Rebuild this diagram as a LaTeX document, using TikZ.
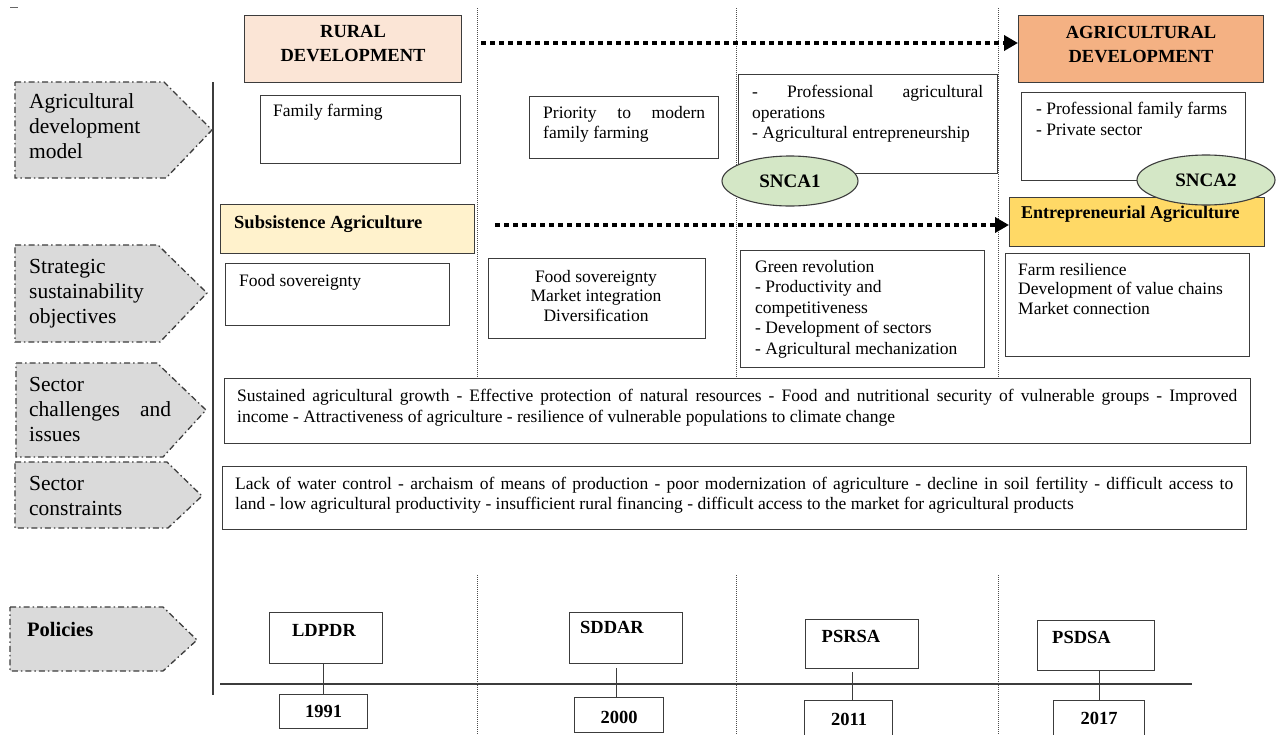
\documentclass[tikz,border=0pt]{standalone}
\usepackage{fontspec}
\setmainfont{Liberation Serif}
\usetikzlibrary{arrows.meta,shapes.geometric}
\definecolor{peach}{RGB}{251,229,214}
\definecolor{orng}{RGB}{244,177,131}
\definecolor{ltyel}{RGB}{255,242,204}
\definecolor{yel}{RGB}{255,217,102}
\definecolor{grn}{RGB}{212,231,198}
\definecolor{pgray}{RGB}{218,218,218}
\definecolor{edge}{RGB}{60,60,60}
\begin{document}
\begin{tikzpicture}[x=1pt,y=-1pt,
 box/.style={draw=edge,line width=1.1pt,inner sep=0pt,anchor=north west},
 txt/.style={inner sep=0pt,anchor=north west,align=left,font=\fontsize{17.5}{20.5}\selectfont},
 ctxt/.style={inner sep=0pt,align=center,font=\fontsize{17.5}{19.5}\selectfont},
 btxt/.style={inner sep=0pt,font=\bfseries\fontsize{18.5}{24}\selectfont},
 lab/.style={inner sep=0pt,anchor=north west,align=left,font=\fontsize{21.5}{25}\selectfont},
 pent/.style={fill=pgray,draw=edge,line width=1.3pt,dash pattern=on 6pt off 3pt on 1.5pt off 3pt},
 sep/.style={draw=black!70,line width=0.8pt,dash pattern=on 1pt off 1pt},
 flow/.style={line width=4.6pt,dash pattern=on 4.6pt off 4.4pt,-{Triangle[length=14pt,width=15pt]}},
 ell/.style={ellipse,draw=edge,line width=1.1pt,fill=grn,inner sep=0pt,font=\bfseries\fontsize{19}{20}\selectfont},
 conn/.style={draw=edge,line width=1.1pt}
]
\useasboundingbox (0,0) rectangle (1277,734);
\fill[white] (0,0) rectangle (1277,734);

% small mark top-left
\draw[line width=0.8pt,black!60] (10,7) -- (18,7);

% vertical separators
\foreach \xx in {477,736,998}{
  \draw[sep] (\xx,8) -- (\xx,377);
  \draw[sep] (\xx,575) -- (\xx,734);
}
% main vertical line
\draw[line width=1.3pt,edge] (213,82) -- (213,695);

% left pentagons
\draw[pent] (15,82) -- (164,82) -- (212,130) -- (166,178) -- (15,178) -- cycle;
\draw[pent] (15,245) -- (158,245) -- (207,293) -- (160,342) -- (15,342) -- cycle;
\draw[pent] (16,363) -- (157,363) -- (206,410) -- (163,457) -- (16,457) -- cycle;
\draw[pent] (15,462) -- (167,462) -- (202,496) -- (168,528) -- (15,528) -- cycle;
\draw[pent] (10,607) -- (163,607) -- (197,640) -- (163,671) -- (10,671) -- cycle;
\node[lab] (lab1) at (29,93) {Agricultural\\development\\model};
\node[lab] (lab2) at (29,259) {Strategic\\sustainability\\objectives};
\node[lab] (lab3) at (29,377) {Sector\\\makebox[142pt][s]{challenges and}\\issues};
\node[lab] (lab4) at (29,476) {Sector\\constraints};
\node[btxt,anchor=west,font=\bfseries\fontsize{20.5}{24}\selectfont] (lab5) at (27,629) {Policies};

% headings
\node[box,fill=peach,minimum width=217pt,minimum height=67pt] (rural) at (244,15) {};
\node[btxt,align=center] at ([yshift=6pt]rural.center) {RURAL\\DEVELOPMENT};
\node[box,fill=orng,minimum width=245pt,minimum height=67pt] (agri) at (1018,15) {};
\node[btxt,align=center] at ([yshift=5pt]agri.center) {AGRICULTURAL\\DEVELOPMENT};
\draw[flow] ([xshift=19pt]rural.east |- 0,43) -- (agri.west |- 0,43);

% model row
\node[box,minimum width=200pt,minimum height=68pt] (fam) at (260,95) {};
\node[txt] at (273,104) {Family farming};
\node[box,minimum width=189pt,minimum height=62pt] (prio) at (529,96) {};
\node[txt] at (543,106) {\makebox[162pt][s]{Priority to modern}\\family farming};
\node[box,minimum width=259pt,minimum height=99pt] (prof) at (738,74) {};
\node[txt] at (752,85) {\makebox[231pt][s]{- Professional agricultural}\\operations\\- Agricultural entrepreneurship};
\node[box,minimum width=224pt,minimum height=88pt] (pff) at (1021,92) {};
\node[txt] at (1036,102) {- Professional family farms\\- Private sector};

% agriculture type row
\node[box,fill=ltyel,minimum width=254pt,minimum height=49pt] (subs) at (220,204) {};
\node[btxt,anchor=west] at (234,224) {Subsistence Agriculture};
\node[box,fill=yel,minimum width=255pt,minimum height=49pt] (entr) at (1009,197) {};
\node[btxt,anchor=west,font=\bfseries\fontsize{18}{24}\selectfont] at (1021,214) {Entrepreneurial Agriculture};
\draw[flow] ([xshift=20pt]subs.east |- 0,225) -- (entr.west |- 0,225);

% ellipses
\node[ell,minimum width=136pt,minimum height=50pt] (snca1) at (790,181) {SNCA1};
\node[ell,minimum width=138pt,minimum height=50pt] (snca2) at (1206,180) {SNCA2};

% objectives row
\node[box,minimum width=224pt,minimum height=62pt] (fs1) at (225,263) {};
\node[txt] at (239,274) {Food sovereignty};
\node[box,minimum width=217pt,minimum height=80pt] (fs2) at (488,258) {};
\node[ctxt] at (596,296) {Food sovereignty\\Market integration\\Diversification};
\node[box,minimum width=244pt,minimum height=117pt] (green) at (740,250) {};
\node[txt] at (755,260) {Green revolution\\- Productivity and\\competitiveness\\- Development of sectors\\- Agricultural mechanization};
\node[box,minimum width=244pt,minimum height=103pt] (farm) at (1005,253) {};
\node[txt,font=\fontsize{17.5}{19.5}\selectfont] at (1018,263) {Farm resilience\\Development of value chains\\Market connection};

% challenges / constraints
\node[box,minimum width=1026pt,minimum height=65pt] (chal) at (224,378) {};
\node[txt,font=\fontsize{17.5}{21}\selectfont] at (237,389) {\makebox[1000pt][s]{Sustained agricultural growth - Effective protection of natural resources - Food and nutritional security of vulnerable groups - Improved}\\income - Attractiveness of agriculture - resilience of vulnerable populations to climate change};
\node[box,minimum width=1024pt,minimum height=63pt] (cons) at (222,466) {};
\node[txt,font=\fontsize{17.5}{20}\selectfont] at (235,477) {\makebox[998pt][s]{Lack of water control - archaism of means of production - poor modernization of agriculture - decline in soil fertility - difficult access to}\\land - low agricultural productivity - insufficient rural financing - difficult access to the market for agricultural products};

% policies timeline
\coordinate (tlA) at (220,684);
\coordinate (tlB) at (1192,684);
\draw[conn] (tlA) -- (tlB);
\node[box,minimum width=113pt,minimum height=51pt] (ldpdr) at (269,612) {};
\node[btxt] at (324,630) {LDPDR};
\node[box,minimum width=113pt,minimum height=51pt] (sddar) at (569,612) {};
\node[btxt] at (612,627) {SDDAR};
\node[box,minimum width=113pt,minimum height=49pt] (psrsa) at (805,619) {};
\node[btxt] at (851,636) {PSRSA};
\node[box,minimum width=117pt,minimum height=50pt] (psdsa) at (1037,620) {};
\node[btxt,anchor=west] at (1052,637) {PSDSA};
\node[box,minimum width=88pt,minimum height=34pt] (y1991) at (279,694) {};
\node[btxt] at (y1991.center) {1991};
\node[box,minimum width=89pt,minimum height=35pt] (y2000) at (574,697) {};
\node[btxt] at (619,717) {2000};
\node[box,minimum width=88pt,minimum height=40pt] (y2011) at (804,700) {};
\node[btxt] at (849,719) {2011};
\node[box,minimum width=91pt,minimum height=40pt] (y2017) at (1053,700) {};
\node[btxt] at (1099,718) {2017};
\draw[conn] (y1991.north) -- (y1991.north |- ldpdr.south);
\draw[conn] ([xshift=-3pt]y2000.north) -- ([xshift=-3pt]y2000.north |- 0,668);
\draw[conn] ([xshift=4pt]y2011.north) -- ([xshift=4pt]y2011.north |- 0,672);
\draw[conn] (y2017.north) -- (y2017.north |- psdsa.south);
\end{tikzpicture}
\end{document}
